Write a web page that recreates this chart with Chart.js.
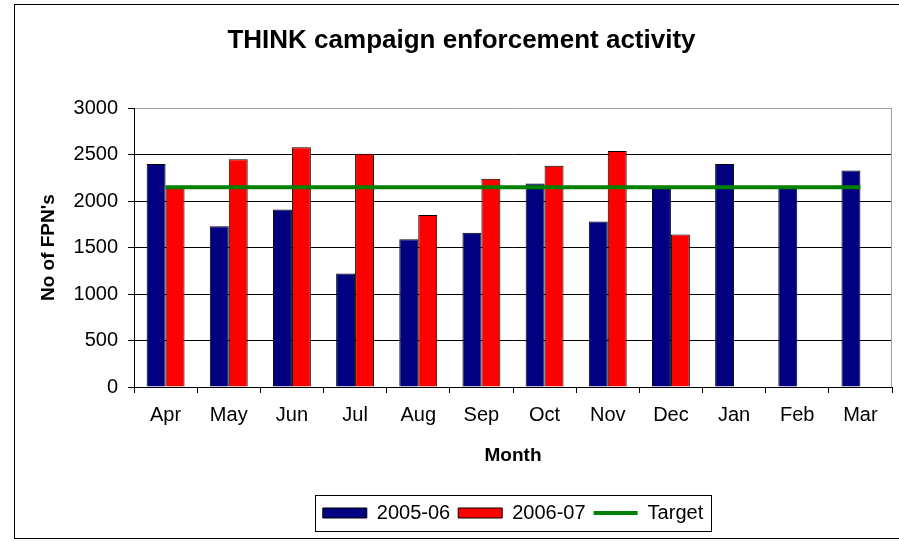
<!DOCTYPE html>
<html>
<head>
<meta charset="utf-8">
<script src="https://cdn.jsdelivr.net/npm/chart.js@4"></script>
<style>
  html, body { margin: 0; padding: 0; background: #fff; overflow: hidden; }
  #wrap { position: absolute; left: 0; top: 0; width: 899px; height: 541px; }
</style>
</head>
<body>
<div id="wrap"><canvas id="c" width="899" height="541"></canvas></div>
<script>
const months = ['Apr','May','Jun','Jul','Aug','Sep','Oct','Nov','Dec','Jan','Feb','Mar'];
const series2005 = [2400, 1730, 1910, 1220, 1590, 1660, 2190, 1780, 2150, 2400, 2160, 2330];
const series2006 = [2160, 2450, 2580, 2510, 1850, 2240, 2380, 2540, 1640, null, null, null];
const target = [2150, 2150, 2150, 2150, 2150, 2150, 2150, 2150, 2150, 2150, 2150, 2150];
const yTicks = [0, 500, 1000, 1500, 2000, 2500, 3000];
const legendOrder = ['2005-06', '2006-07', 'Target'];

const FONT = "'Liberation Sans', Arial, sans-serif";

const framePlugin = {
  id: 'frame',
  beforeDraw(chart) {
    const ctx = chart.ctx;
    ctx.save();
    ctx.fillStyle = '#fff';
    ctx.fillRect(0, 0, chart.width, chart.height);
    ctx.strokeStyle = '#000';
    ctx.lineWidth = 1;
    ctx.strokeRect(14.5, 4.5, chart.width, 534);
    ctx.restore();
  },
  afterDraw(chart) {
    const ctx = chart.ctx;
    const a = chart.chartArea;
    ctx.save();
    ctx.strokeStyle = '#a0a0a0';
    ctx.lineWidth = 1;
    ctx.beginPath();
    ctx.moveTo(Math.round(a.right) - 0.5, a.top);
    ctx.lineTo(Math.round(a.right) - 0.5, a.bottom);
    ctx.stroke();
    const lg = chart.legend;
    if (lg && lg.legendHitBoxes && lg.legendHitBoxes.length) {
      const hb = lg.legendHitBoxes;
      let l = Infinity, r = -Infinity, t = Infinity, b = -Infinity;
      hb.forEach(h => { l = Math.min(l, h.left); r = Math.max(r, h.left + h.width); t = Math.min(t, h.top); b = Math.max(b, h.top + h.height); });
      ctx.strokeStyle = '#000';
      ctx.strokeRect(Math.round(l - 8) + 0.5, Math.round(t - 8) + 0.5, Math.round(r - l + 16), Math.round(b - t + 16));
    }
    ctx.restore();
  }
};

new Chart(document.getElementById('c'), {
  type: 'bar',
  data: {
    labels: months,
    datasets: [
      { type: 'line', label: 'Target', data: target, borderColor: '#008000', backgroundColor: '#008000',
        borderWidth: 4, pointRadius: 0, pointHoverRadius: 0, pointStyle: 'line', order: 0, tension: 0 },
      { label: '2005-06', data: series2005, backgroundColor: '#000080', borderColor: '#000', borderWidth: 1,
        pointStyle: 'rect', order: 1 },
      { label: '2006-07', data: series2006, backgroundColor: '#ff0000', borderColor: '#000', borderWidth: 1,
        pointStyle: 'rect', order: 1 }
    ]
  },
  options: {
    responsive: false,
    animation: false,
    devicePixelRatio: 1,
    layout: { padding: { left: 31, right: 7, top: 0, bottom: 8 } },
    datasets: { bar: { categoryPercentage: 0.6, barPercentage: 1.0 } },
    plugins: {
      title: {
        display: true,
        text: 'THINK campaign enforcement activity',
        color: '#000',
        font: { family: FONT, size: 26, weight: 'bold', lineHeight: 1.2 },
        padding: { top: 25, bottom: 52 }
      },
      legend: {
        position: 'bottom',
        fullSize: false,
        labels: {
          usePointStyle: true,
          pointStyleWidth: 44,
          boxHeight: 10,
          padding: 8,
          color: '#000',
          font: { family: FONT, size: 20 },
          sort: (a, b) => legendOrder.indexOf(a.text) - legendOrder.indexOf(b.text)
        }
      },
      tooltip: { enabled: false }
    },
    scales: {
      x: {
        offset: true,
        grid: { display: true, drawOnChartArea: false, drawTicks: true, tickLength: 6, offset: true, color: '#000', tickColor: '#000' },
        border: { display: true, color: '#000', width: 1 },
        ticks: { color: '#000', font: { family: FONT, size: 20 }, padding: 10, maxRotation: 0, autoSkip: false },
        title: { display: true, text: 'Month', color: '#000', font: { family: FONT, size: 19, weight: 'bold', lineHeight: 1.2 }, padding: { top: 0, bottom: 28 } },
        afterFit(scale) { scale.height = 108; }
      },
      y: {
        min: 0, max: 3000,
        afterBuildTicks(scale) { scale.ticks = yTicks.map(v => ({ value: v })); },
        grid: {
          color: ctx => (ctx.tick && ctx.tick.value === 3000) ? '#a0a0a0' : '#000',
          tickColor: '#000', tickLength: 6, drawTicks: true
        },
        border: { display: true, color: '#000', width: 1 },
        ticks: { color: '#000', font: { family: FONT, size: 20 }, padding: 10, callback: v => String(v) },
        title: { display: true, text: "No of FPN's", color: '#000', font: { family: FONT, size: 19, weight: 'bold', lineHeight: 1.2 }, padding: { top: 6, bottom: 0 } },
        afterFit(scale) { scale.width = 103; }
      }
    }
  },
  plugins: [framePlugin]
});
</script>
</body>
</html>
